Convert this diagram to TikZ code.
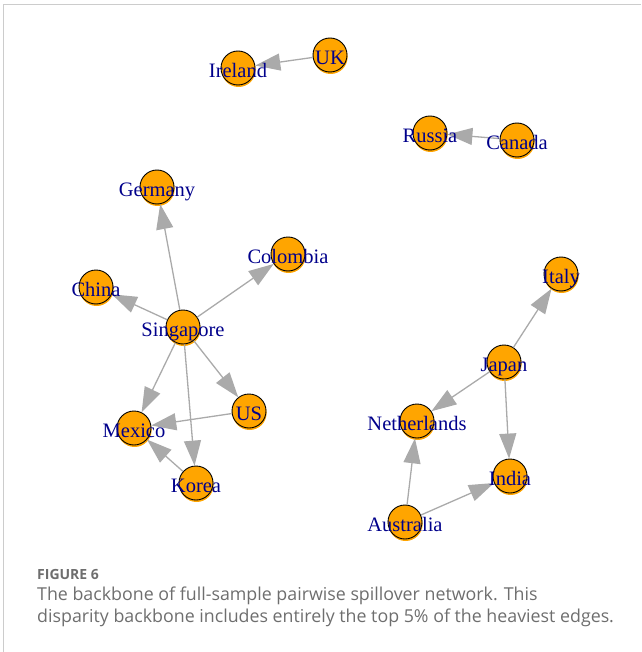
\documentclass[tikz,border=0pt]{standalone}
\usepackage{fontspec}
\setmainfont{Liberation Serif}
\newfontfamily\capfont{Open Sans}
\usetikzlibrary{arrows.meta,shadows}
\definecolor{vorange}{HTML}{FFA500}
\definecolor{lblue}{HTML}{00008B}
\definecolor{egray}{HTML}{AAAAAA}
\definecolor{capgray}{HTML}{6E6E6E}
\definecolor{framegray}{HTML}{CCCCCC}
\begin{document}
\begin{tikzpicture}[x=1pt,y=-1pt,
  vertex/.style={circle, draw=black, line width=0.9pt, fill=vorange, minimum size=34pt, inner sep=0pt,
    drop shadow={shadow xshift=0.6pt, shadow yshift=-2pt, fill=vorange, opacity=1}},
  lbl/.style={text=lblue, font=\fontsize{20.5}{20.5}\selectfont, anchor=base, inner sep=0pt},
  link/.style={draw=egray, line width=1.3pt, -{Triangle[length=25pt,width=17pt]}},
  captxt/.style={text=capgray, anchor=base west, inner sep=0pt, font=\capfont\fontsize{17.8}{20}\selectfont}]
\useasboundingbox (0,0) rectangle (641,652);
\draw[line width=1.5pt, framegray] (3.5,652) -- (3.5,4.5) -- (641,4.5);
% vertices
\node[vertex] (UK) at (330,55) {};
\node[vertex] (Ireland) at (238,68) {};
\node[vertex] (Russia) at (430,133) {};
\node[vertex] (Canada) at (517,140) {};
\node[vertex] (Germany) at (157,187) {};
\node[vertex] (Colombia) at (288,254) {};
\node[vertex] (China) at (96,287) {};
\node[vertex] (Singapore) at (183,327) {};
\node[vertex] (Italy) at (561,274) {};
\node[vertex] (Japan) at (504,362) {};
\node[vertex] (Netherlands) at (417,421) {};
\node[vertex] (US) at (249,411) {};
\node[vertex] (Mexico) at (134,428) {};
\node[vertex] (Korea) at (196,483) {};
\node[vertex] (India) at (510,476) {};
\node[vertex] (Australia) at (405,522) {};
% edges
\draw[link] (UK) -- (Ireland);
\draw[link] (Canada) -- (Russia);
\draw[link] (Singapore) -- (Germany);
\draw[link] (Singapore) -- (Colombia);
\draw[link] (Singapore) -- (China);
\draw[link] (Singapore) -- (Mexico);
\draw[link] (Singapore) -- (Korea);
\draw[link] (Singapore) -- (US);
\draw[link] (US) -- (Mexico);
\draw[link] (Korea) -- (Mexico);
\draw[link] (Japan) -- (Italy);
\draw[link] (Japan) -- (Netherlands);
\draw[link] (Japan) -- (India);
\draw[link] (Australia) -- (Netherlands);
\draw[link] (Australia) -- (India);
% labels
\foreach \n in {UK,Ireland,Russia,Canada,Germany,Colombia,China,Singapore,Italy,Japan,Netherlands,US,Mexico,Korea,India,Australia}
  \node[lbl] (t\n) at ([yshift=-9.5pt]\n.center) {\n};
% caption
\node[captxt, font=\capfont\bfseries\fontsize{14}{16}\selectfont] (cap0) at (37,579) {FIGURE 6};
\node[captxt] (cap1) at (37,600) {The backbone of full-sample pairwise spillover network. This};
\node[captxt] (cap2) at (37,622) {disparity backbone includes entirely the top 5\% of the heaviest edges.};
\end{tikzpicture}
\end{document}
